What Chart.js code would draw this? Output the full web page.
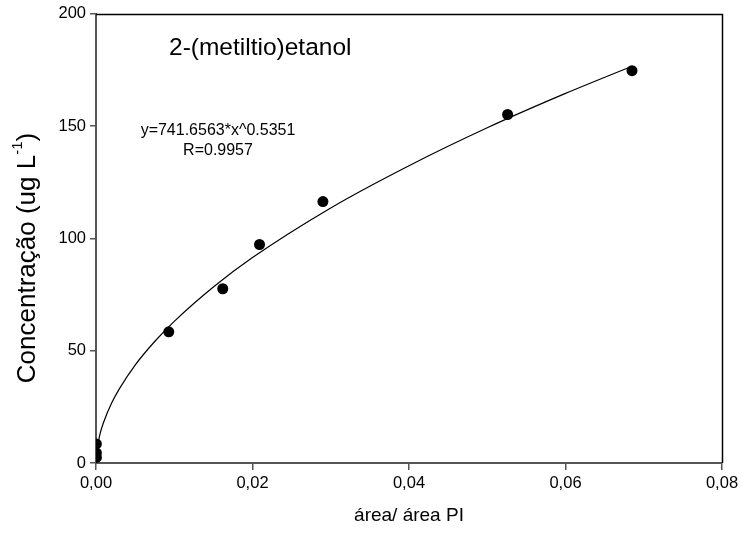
<!DOCTYPE html>
<html>
<head>
<meta charset="utf-8">
<script src="https://cdn.jsdelivr.net/npm/chart.js@4"></script>
<style>
  html, body { margin: 0; padding: 0; background: #fff; }
  #wrap { width: 744px; height: 543px; position: relative; }
</style>
</head>
<body>
<div id="wrap"><canvas id="c"></canvas></div>
<script>
// measured points (área/área PI vs concentração)
const areaRatio = [0.00005, 0.00005, 0.00005, 0.0093, 0.0162, 0.0209, 0.0290, 0.0526, 0.0685];
const concentration = [8.5, 4.5, 2.5, 58.4, 77.6, 97.3, 116.4, 155.2, 174.7];
// fitted curve
const fitX = [0.0001, 0.0005, 0.001, 0.002, 0.003, 0.005, 0.0075, 0.01, 0.015, 0.02, 0.03, 0.04, 0.05, 0.06, 0.0685];
const fitY = [5.4, 12.7, 18.4, 26.7, 33.1, 43.6, 54.1, 63.1, 78.4, 91.5, 113.6, 132.4, 149.3, 164.6, 176.7];
const xTicks = [0, 0.02, 0.04, 0.06, 0.08];
const yTicks = [0, 50, 100, 150, 200];
const chartTitle = "2-(metiltio)etanol";
const equationText = "y=741.6563*x^0.5351";
const rText = "R=0.9957";
const xTitle = "área/ área PI";

const FONT = "'Liberation Sans', Arial, sans-serif";
const AXIS = "#555555";

const textPlugin = {
  id: 'texts',
  afterDraw(chart) {
    const ctx = chart.ctx;
    const a = chart.chartArea;
    ctx.save();
    // top & right frame
    ctx.strokeStyle = '#000';
    ctx.lineWidth = 1.5;
    ctx.beginPath();
    ctx.moveTo(a.left, a.top + 0.5);
    ctx.lineTo(a.right + 0.5, a.top + 0.5);
    ctx.lineTo(a.right + 0.5, a.bottom);
    ctx.stroke();

    ctx.fillStyle = '#000';
    ctx.textBaseline = 'middle';
    // title inside plot
    ctx.font = "24.5px " + FONT;
    ctx.textAlign = 'left';
    ctx.fillText(chartTitle, 169, 48);
    // equation
    ctx.font = "16px " + FONT;
    ctx.textAlign = 'center';
    ctx.fillText(equationText, 218, 131);
    ctx.fillText(rText, 218, 151);

    // x title
    ctx.font = "19px " + FONT;
    ctx.fillText(xTitle, (a.left + a.right) / 2, 516);

    // y title with superscript
    ctx.translate(28, 258);
    ctx.rotate(-Math.PI / 2);
    const main = "Concentração (ug L";
    const sup = "-1";
    const close = ")";
    const big = "26px " + FONT, small = "15px " + FONT;
    ctx.font = big;
    const wMain = ctx.measureText(main).width;
    const wClose = ctx.measureText(close).width;
    ctx.font = small;
    const wSup = ctx.measureText(sup).width;
    const total = wMain + wSup + wClose;
    let x0 = -total / 2;
    ctx.textAlign = 'left';
    ctx.font = big;
    ctx.fillText(main, x0, 0);
    ctx.font = small;
    ctx.fillText(sup, x0 + wMain, -10);
    ctx.font = big;
    ctx.fillText(close, x0 + wMain + wSup, 0);
    ctx.restore();
  }
};

new Chart(document.getElementById('c'), {
  type: 'scatter',
  data: {
    datasets: [
      {
        label: 'fit',
        data: fitX.map((x, i) => ({ x: x, y: fitY[i] })),
        showLine: true,
        borderColor: '#000',
        borderWidth: 1.2,
        pointRadius: 0,
        cubicInterpolationMode: 'monotone',
        fill: false,
        order: 2
      },
      {
        label: 'dados',
        data: areaRatio.map((x, i) => ({ x: x, y: concentration[i] })),
        backgroundColor: '#000',
        borderColor: '#000',
        pointRadius: 5.5,
        pointBorderWidth: 0,
        order: 1
      }
    ]
  },
  options: {
    responsive: true,
    maintainAspectRatio: false,
    animation: false,
    events: [],
    layout: { padding: { left: 0, right: 22, top: 13, bottom: 0 } },
    plugins: {
      legend: { display: false },
      tooltip: { enabled: false },
      title: { display: false }
    },
    scales: {
      x: {
        type: 'linear',
        min: 0, max: 0.08,
        afterBuildTicks(scale) { scale.ticks = xTicks.map(v => ({ value: v })); },
        afterFit(scale) { scale.height = 80; },
        border: { display: true, color: AXIS, width: 2 },
        grid: { display: true, drawOnChartArea: false, drawTicks: true, tickLength: 7, color: AXIS, lineWidth: 1.5 },
        ticks: {
          color: '#000',
          font: { family: FONT, size: 16.5 },
          padding: 4,
          maxRotation: 0,
          callback: v => v.toFixed(2).replace('.', ',')
        }
      },
      y: {
        type: 'linear',
        min: 0, max: 200,
        afterBuildTicks(scale) { scale.ticks = yTicks.map(v => ({ value: v })); },
        afterFit(scale) { scale.width = 96; },
        border: { display: true, color: AXIS, width: 2 },
        grid: { display: true, drawOnChartArea: false, drawTicks: true, tickLength: 6, color: AXIS, lineWidth: 1.5 },
        ticks: {
          color: '#000',
          font: { family: FONT, size: 16.5 },
          padding: 4,
          callback: v => String(v)
        }
      }
    }
  },
  plugins: [textPlugin]
});
</script>
</body>
</html>
